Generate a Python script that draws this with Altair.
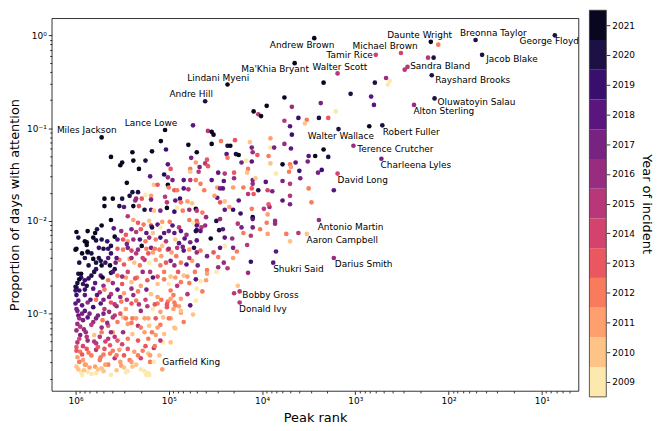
import altair as alt
import pandas as pd

# ---------------- data ----------------
# each entry: (log10 peak rank, log10 proportion of days with attention, year of incident)
upper_right = [
    (2.11,-0.10,2012),(2.22,-0.24,2015),(2.16,-0.24,2020),(2.79,-0.51,2020),(2.67,-0.46,2016),
    (2.63,-0.49,2009),(2.65,-0.53,2009),(3.05,-0.63,2020),(2.83,-0.66,2018),(2.80,-0.75,2018),
    (2.85,-0.98,2021),(3.23,-1.67,2018),(2.47,-0.37,2015),(3.34,-0.51,2021),(3.76,-0.67,2021),
]
upper_mid = [
    (3.95,-0.76,2021),(3.68,-0.77,2016),(3.37,-0.73,2017),(3.21,-0.82,2009),(4.09,-0.82,2021),
    (4.04,-0.85,2015),(4.01,-0.87,2021),(3.76,-0.92,2015),(3.61,-0.89,2019),(3.52,-0.91,2012),
    (3.54,-0.95,2010),(3.39,-0.89,2020),(3.29,-0.89,2013),(3.70,-0.98,2018),(3.68,-1.07,2019),
    (4.58,-1.03,2015),(4.54,-1.04,2021),(4.52,-1.07,2021),(4.44,-1.14,2012),(4.37,-1.19,2020),
    (4.34,-1.19,2021),(4.29,-1.13,2013),(4.13,-1.15,2010),(4.11,-1.21,2017),(3.91,-1.11,2011),
    (3.91,-1.21,2009),(3.87,-1.21,2017),(3.76,-1.17,2016),(3.69,-1.22,2018),(4.54,-1.17,2021),
    (4.38,-1.28,2018),(4.37,-1.32,2012),(4.28,-1.28,2020),(4.25,-1.29,2021),(4.10,-1.26,2016),
    (4.05,-1.29,2013),(3.93,-1.30,2012),(4.17,-1.35,2009),(4.22,-1.37,2017),(4.11,-1.36,2018),
    (3.91,-1.38,2010),(3.78,-1.39,2021),(3.70,-1.39,2012),(3.69,-1.42,2011),(3.64,-1.37,2018),
    (3.50,-1.30,2018),(3.43,-1.30,2021),(3.34,-1.23,2021),(3.51,-1.36,2017),(3.60,-1.46,2019),
    (3.40,-1.48,2017),(3.36,-1.45,2019),(3.85,-1.49,2009),(3.71,-1.47,2012),(4.59,-1.34,2013),
    (4.61,-1.38,2015),(4.58,-1.41,2013),(4.68,-1.47,2015),(4.66,-1.60,2012),(4.62,-1.67,2012),
    (4.54,-1.56,2018),(4.47,-1.48,2018),(4.41,-1.57,2018),(4.40,-1.49,2015),(4.30,-1.48,2013),
    (4.30,-1.54,2016),(4.15,-1.44,2012),(4.16,-1.48,2010),(4.10,-1.56,2017),(4.10,-1.60,2016),
    (4.07,-1.54,2010),(3.96,-1.58,2018),(3.78,-1.57,2017),(4.48,-1.64,2011),(4.45,-1.65,2017),
    (4.42,-1.65,2018),(4.31,-1.64,2011),(4.20,-1.64,2012),(4.11,-1.65,2013),(4.15,-1.71,2015),
    (4.09,-1.71,2013),(4.04,-1.67,2020),(3.94,-1.67,2014),(3.89,-1.68,2017),(3.70,-1.60,2015),
    (3.50,-1.65,2012),(3.78,-1.78,2018),(3.70,-1.82,2017),(3.47,-1.80,2012),(4.40,-1.79,2010),
    (4.45,-1.80,2013),(4.48,-1.75,2018),(4.51,-1.73,2011),(4.25,-1.78,2018),(4.71,-1.87,2021),
    (4.64,-1.91,2012),(4.70,-1.89,2015),(4.60,-1.96,2016),(4.40,-1.88,2018),(4.35,-1.85,2011),
    (4.31,-1.88,2019),(4.23,-1.92,2019),(4.10,-1.96,2021),(4.11,-1.87,2012),(3.98,-1.87,2015),
    (3.92,-1.85,2016),(3.94,-1.93,2011),(4.49,-2.00,2020),(4.45,-1.98,2016),(4.70,-2.00,2013),
    (4.69,-2.03,2012),(4.61,-2.05,2016),(4.65,-2.07,2015),(4.70,-2.10,2019),(4.46,-2.10,2020),
    (4.42,-2.09,2018),(4.40,-2.18,2018),(4.32,-2.19,2016),(4.26,-2.03,2015),(4.22,-2.07,2017),
    (4.20,-2.13,2012),(4.10,-2.07,2017),(3.94,-2.14,2011),(3.86,-2.03,2016),(3.74,-2.14,2012),
    (3.61,-2.13,2015),(4.55,-2.19,2021),(3.59,-1.54,2017),(3.29,-1.31,2020),(3.70,-1.73,2015),
    (3.93,-1.82,2013),
]
lower_mid = [
    (4.40,-2.27,2009),(4.31,-2.29,2017),(4.16,-2.26,2015),(4.27,-2.33,2012),(4.12,-2.44,2019),
    (4.15,-2.56,2016),(4.37,-2.51,2015),(4.47,-2.50,2016),(4.49,-2.55,2009),(4.59,-2.53,2012),
    (4.60,-2.64,2011),(4.70,-2.73,2009),(4.64,-2.76,2012),(4.26,-2.70,2010),(4.30,-2.78,2015),
    (3.85,-2.33,2018),(3.70,-2.22,2010),(4.66,-2.11,2018),(4.66,-2.32,2012),(4.59,-2.38,2017),
    (4.52,-2.34,2013),(4.47,-2.39,2012),(4.45,-2.29,2018),(4.59,-2.57,2011),(4.87,-2.66,2012),
    (4.66,-2.65,2009),(4.31,-2.40,2011),(4.41,-2.45,2016),(4.10,-1.98,2018),(3.95,-2.02,2012),
    (3.86,-2.00,2016),(4.12,-2.16,2015),(4.02,-2.09,2012),(5.06,-3.04,2010),(4.94,-3.15,2010),
    (5.06,-3.31,2009),(5.16,-3.37,2015),(5.20,-3.52,2012),(5.24,-3.66,2009),(5.21,-3.66,2009),
    (4.87,-2.99,2011),(4.74,-3.01,2010),(4.89,-2.92,2011),(4.95,-2.80,2012),(4.87,-2.84,2011),
    (4.98,-2.75,2012),(5.01,-2.87,2012),
]
upper_left = [
    (4.74,-0.97,2018),(5.085,-1.14,2021),(4.79,-1.18,2021),(5.03,-1.23,2019),(4.70,-1.26,2021),
    (5.39,-1.26,2021),(5.18,-1.25,2021),(5.62,-1.31,2021),(5.38,-1.35,2021),(5.25,-1.35,2020),
    (5.50,-1.37,2021),(5.52,-1.40,2021),(5.32,-1.44,2021),(4.76,-1.32,2017),(5.01,-1.39,2018),
    (4.71,-1.37,2011),(4.67,-1.42,2017),(4.77,-1.44,2012),(4.77,-1.47,2010),(4.98,-1.44,2013),
    (5.20,-1.52,2018),(5.05,-1.50,2020),(5.01,-1.53,2016),(4.96,-1.56,2017),(4.84,-1.56,2018),
    (4.77,-1.56,2015),(4.71,-1.56,2012),(5.45,-1.59,2021),(5.16,-1.61,2010),(5.12,-1.61,2013),
    (5.01,-1.61,2021),(5.00,-1.64,2012),(4.94,-1.67,2013),(4.91,-1.67,2012),(4.84,-1.65,2018),
    (4.79,-1.66,2015),(5.39,-1.69,2020),(5.33,-1.69,2020),(5.25,-1.72,2009),(5.19,-1.73,2011),
    (5.04,-1.74,2015),(5.42,-1.73,2020),(5.69,-1.76,2021),(5.60,-1.76,2021),(5.50,-1.76,2020),
    (5.35,-1.76,2016),(4.88,-1.76,2019),(5.69,-1.84,2021),
]
dense_upper = [
    (5.36,-1.78,2016),(5.29,-1.76,2013),(5.19,-1.77,2017),(5.02,-1.80,2015),(4.93,-1.78,2018),
    (4.87,-1.80,2012),(4.80,-1.79,2011),(4.75,-1.81,2010),(5.53,-1.84,2020),(5.48,-1.85,2018),
    (5.38,-1.84,2021),(5.32,-1.84,2013),(5.26,-1.88,2020),(5.19,-1.88,2018),(5.16,-1.89,2010),
    (5.09,-1.89,2017),(5.02,-1.86,2021),(4.94,-1.90,2019),(4.91,-1.86,2009),(4.85,-1.89,2012),
    (4.78,-1.88,2016),(5.44,-1.95,2015),(5.38,-1.99,2011),(5.62,-1.99,2021),(5.33,-2.02,2013),
    (5.27,-2.04,2012),(5.21,-2.00,2010),(5.19,-2.05,2014),(5.12,-2.04,2018),(5.07,-2.01,2011),
    (4.99,-2.01,2012),(4.96,-2.05,2018),(4.89,-2.07,2015),(4.78,-1.99,2012),(4.74,-2.02,2009),
    (4.70,-2.05,2018),(5.72,-2.05,2021),(5.87,-2.11,2021),(5.79,-2.13,2021),(5.59,-2.08,2018),
    (5.51,-2.11,2016),(5.46,-2.15,2013),(5.40,-2.09,2017),(5.35,-2.12,2015),(5.30,-2.09,2013),
    (5.24,-2.13,2018),(5.18,-2.07,2020),(5.17,-2.13,2010),(5.09,-2.07,2009),(5.05,-2.13,2018),
    (5.00,-2.11,2017),(4.94,-2.13,2018),(4.87,-2.11,2018),(4.81,-2.15,2016),(4.71,-2.11,2020),
    (5.81,-2.18,2021),(5.72,-2.20,2020),(5.58,-2.17,2021),(5.49,-2.20,2013),(5.44,-2.22,2011),
    (5.38,-2.20,2016),(5.31,-2.20,2018),(5.25,-2.22,2012),(5.21,-2.18,2016),(5.14,-2.20,2012),
    (5.09,-2.18,2019),(5.03,-2.22,2015),(4.93,-2.20,2010),(4.89,-2.24,2018),(4.83,-2.19,2018),
    (4.77,-2.23,2017),(4.70,-2.21,2018),
]
dense_middle = [
    (5.99,-2.30,2021),(5.88,-2.26,2021),(5.87,-2.34,2020),(5.75,-2.29,2019),(5.65,-2.30,2019),
    (5.62,-2.27,2020),(5.55,-2.30,2013),(5.49,-2.31,2012),(5.44,-2.29,2017),(5.40,-2.32,2014),
    (5.33,-2.31,2016),(5.29,-2.27,2021),(5.24,-2.30,2012),(5.19,-2.29,2017),(5.17,-2.34,2011),
    (5.10,-2.31,2012),(5.07,-2.27,2010),(5.01,-2.31,2013),(4.97,-2.34,2011),(4.91,-2.29,2015),
    (4.84,-2.32,2018),(4.78,-2.31,2011),(4.73,-2.29,2020),(4.70,-2.34,2016),(5.90,-2.40,2020),
    (5.81,-2.41,2021),(5.73,-2.43,2020),(5.65,-2.40,2018),(5.63,-2.48,2021),(5.57,-2.45,2017),
    (5.53,-2.42,2012),(5.48,-2.47,2013),(5.42,-2.41,2011),(5.37,-2.45,2010),(5.31,-2.48,2012),
    (5.26,-2.42,2015),(5.21,-2.45,2009),(5.14,-2.42,2011),(5.09,-2.48,2012),(5.03,-2.45,2013),
    (4.98,-2.43,2017),(4.94,-2.48,2016),(4.87,-2.45,2012),(4.81,-2.47,2018),(4.75,-2.43,2011),
    (4.69,-2.48,2017),(5.97,-2.57,2020),(5.94,-2.61,2019),(5.98,-2.67,2020),(5.90,-2.64,2019),
    (5.83,-2.59,2020),(5.79,-2.67,2018),(5.73,-2.59,2018),(5.70,-2.70,2016),(5.65,-2.64,2012),
    (5.60,-2.67,2016),(5.55,-2.59,2012),(5.50,-2.68,2013),(5.46,-2.61,2011),(5.40,-2.66,2010),
    (5.34,-2.61,2012),(5.30,-2.70,2011),(5.23,-2.64,2013),(5.17,-2.61,2018),(5.12,-2.68,2010),
    (5.05,-2.63,2012),(5.00,-2.68,2009),(4.93,-2.61,2011),(4.91,-2.70,2015),(4.84,-2.59,2010),
    (4.78,-2.67,2012),(4.71,-2.63,2018),
]
dense_lower = [
    (5.99,-2.72,2020),(5.90,-2.74,2019),(5.81,-2.73,2018),(5.74,-2.77,2016),(5.69,-2.74,2012),
    (5.62,-2.79,2015),(5.55,-2.74,2018),(5.48,-2.78,2011),(5.40,-2.73,2016),(5.33,-2.76,2012),
    (5.24,-2.74,2017),(5.19,-2.79,2010),(5.12,-2.82,2011),(4.98,-2.84,2011),(4.94,-2.88,2012),
    (4.80,-2.79,2015),(4.71,-2.86,2009),(5.97,-2.86,2018),(5.93,-2.91,2018),(5.98,-2.97,2017),
    (5.87,-2.88,2016),(5.81,-2.93,2019),(5.78,-2.85,2012),(5.73,-2.89,2018),(5.69,-2.95,2015),
    (5.62,-2.88,2013),(5.56,-2.92,2016),(5.51,-2.87,2012),(5.46,-2.95,2011),(5.40,-2.89,2013),
    (5.35,-2.86,2012),(5.30,-2.97,2016),(5.23,-2.92,2015),(5.17,-2.95,2009),(5.12,-2.89,2012),
    (5.09,-2.98,2011),(5.02,-2.93,2013),(4.93,-2.91,2012),(4.87,-2.97,2010),(4.77,-2.91,2018),
    (5.97,-3.02,2018),(5.92,-3.07,2017),(5.98,-3.11,2016),(5.87,-3.04,2018),(5.81,-3.09,2016),
    (5.76,-3.02,2017),(5.71,-3.07,2012),(5.65,-3.13,2013),(5.60,-3.04,2015),(5.55,-3.09,2012),
    (5.49,-3.04,2010),(5.44,-3.11,2011),(5.39,-3.05,2012),(5.33,-3.13,2015),(5.26,-3.05,2011),
    (5.21,-3.13,2010),(5.14,-3.05,2013),(5.09,-3.12,2012),(4.98,-3.05,2011),(4.93,-3.16,2010),
    (4.84,-3.09,2012),(5.99,-3.18,2016),(5.95,-3.23,2017),(5.98,-3.31,2015),(5.89,-3.20,2016),
    (5.87,-3.29,2016),(5.80,-3.23,2010),(5.78,-3.32,2015),(5.72,-3.20,2012),(5.65,-3.27,2015),
    (5.60,-3.20,2011),(5.55,-3.29,2013),(5.49,-3.20,2016),(5.44,-3.27,2012),(5.39,-3.22,2010),
    (5.33,-3.29,2013),(5.26,-3.20,2011),(5.22,-3.27,2012),(5.14,-3.23,2011),(5.09,-3.29,2015),
    (4.98,-3.31,2010),(5.99,-3.36,2013),(5.95,-3.41,2012),(5.98,-3.47,2011),(5.92,-3.50,2011),
    (5.88,-3.38,2013),(5.83,-3.45,2012),(5.78,-3.39,2015),(5.73,-3.47,2012),(5.69,-3.38,2013),
    (5.63,-3.43,2012),(5.58,-3.48,2015),(5.53,-3.39,2011),(5.48,-3.45,2013),(5.42,-3.50,2012),
    (5.37,-3.41,2011),(5.30,-3.48,2014),(5.22,-3.43,2010),(5.16,-3.52,2009),(5.99,-3.57,2010),
    (5.94,-3.63,2009),(5.89,-3.55,2011),(5.87,-3.63,2009),(5.79,-3.57,2011),(5.78,-3.64,2009),
    (5.72,-3.59,2010),(5.65,-3.55,2012),(5.62,-3.66,2009),(5.56,-3.61,2010),(5.51,-3.56,2011),
    (5.46,-3.63,2009),(5.39,-3.57,2010),(5.26,-3.62,2009),(5.22,-3.64,2009),(5.93,-3.66,2009),
]
left_wall = [
    (6.00,-2.31,2021),(6.00,-2.71,2020),(6.00,-2.75,2019),(5.99,-2.80,2019),(6.00,-2.89,2018),
    (5.94,-2.57,2021),(5.96,-2.63,2021),(5.88,-2.70,2020),(5.87,-2.33,2021),(5.88,-2.23,2021),
    (5.77,-2.09,2020),(5.78,-2.21,2020),(5.86,-2.48,2020),(5.78,-2.52,2019),(5.72,-2.48,2021),
    (5.71,-2.61,2021),(5.62,-2.56,2020),(5.58,-2.52,2020),
    (5.99,-2.95,2017),(5.96,-3.05,2016),(5.93,-3.00,2017),(5.90,-2.97,2018),(5.85,-3.00,2017),
    (5.83,-3.12,2015),(5.95,-3.14,2015),(5.91,-3.17,2016),(5.88,-3.25,2015),(5.96,-3.27,2014),
    (5.92,-3.35,2014),(5.99,-3.40,2013),(5.93,-3.44,2013),(5.86,-3.42,2012),(5.96,-3.52,2012),
    (5.90,-3.55,2011),(5.97,-3.60,2010),(5.91,-3.61,2010),(5.85,-3.58,2011),(5.83,-3.65,2009),
    (5.76,-3.60,2010),(5.70,-3.62,2010),(5.68,-3.55,2011),(5.74,-3.50,2012),(5.70,-3.44,2012),
    (5.76,-3.36,2013),(5.80,-3.30,2015),(5.74,-3.25,2015),(5.68,-3.30,2014),(5.63,-3.34,2013),
    (5.60,-3.40,2012),(5.56,-3.45,2012),(5.52,-3.52,2011),(5.48,-3.58,2010),(5.44,-3.62,2009),
    (5.40,-3.52,2011),(5.35,-3.55,2010),(5.30,-3.60,2009),(5.33,-3.45,2012),(5.28,-3.40,2012),
    (5.25,-3.35,2013),(5.44,-3.38,2013),(5.50,-3.33,2014),(5.58,-3.25,2015),(5.62,-3.20,2016),
    (5.66,-3.10,2016),(5.72,-3.15,2016),(5.78,-3.05,2017),(5.70,-3.00,2017),(5.64,-2.98,2016),
    (5.58,-3.02,2015),(5.52,-3.00,2013),(5.46,-3.05,2012),(5.40,-3.10,2012),(5.35,-3.05,2011),
    (5.30,-3.15,2012),(5.22,-3.05,2011),(5.18,-3.20,2012),(5.12,-3.15,2011),(5.05,-3.22,2010),
    (5.15,-3.35,2012),(5.10,-3.45,2010),(5.20,-3.45,2011),(5.00,-3.05,2012),(4.95,-2.95,2011),
    (5.02,-2.90,2013),(5.08,-2.85,2012),(5.15,-2.90,2013),(5.25,-2.85,2014),(5.32,-2.90,2015),
    (5.38,-2.80,2016),(5.45,-2.85,2015),(5.52,-2.82,2016),(5.58,-2.90,2015),(5.64,-2.82,2017),
    (5.70,-2.85,2017),(5.77,-2.80,2018),(5.84,-2.85,2018),(5.90,-2.80,2018),(5.96,-2.75,2019),
    (5.92,-2.68,2019),(5.86,-2.62,2019),(5.80,-2.55,2020),(5.75,-2.40,2020),(5.68,-2.45,2019),
    (5.60,-2.55,2018),(5.56,-2.40,2018),(5.62,-2.35,2019),(5.70,-2.30,2020),(5.66,-2.22,2019),
    (5.55,-2.20,2018),(5.45,-2.25,2017),(5.40,-2.40,2016),(5.35,-2.35,2015),(5.28,-2.40,2014),
    (5.22,-2.35,2013),(5.15,-2.30,2012),(5.08,-2.38,2011),(5.00,-2.30,2016),(4.92,-2.38,2012),
    (4.85,-2.28,2017),(4.78,-2.40,2015),(4.72,-2.55,2012),(4.80,-2.60,2011),(4.90,-2.55,2013),
    (4.98,-2.60,2010),(5.05,-2.55,2012),(5.12,-2.60,2013),(5.20,-2.55,2015),(5.28,-2.55,2016),
    (5.36,-2.62,2013),(5.44,-2.55,2014),(5.50,-2.60,2016),(5.96,-2.45,2020),(5.93,-2.35,2021),
    (5.97,-2.18,2020),(5.99,-2.12,2021),(5.90,-2.22,2021),(5.83,-2.35,2020),(5.78,-2.45,2020),
]

# named incidents
names = ["George Floyd", "Breonna Taylor", "Jacob Blake", "Daunte Wright", "Rayshard Brooks",
         "Oluwatoyin Salau", "Michael Brown", "Sandra Bland", "Alton Sterling", "Tamir Rice",
         "Walter Scott", "Andrew Brown", "Ma'Khia Bryant", "Lindani Myeni", "Andre Hill",
         "Lance Lowe", "Miles Jackson", "Robert Fuller", "Walter Wallace", "Terence Crutcher",
         "Charleena Lyles", "David Long", "Antonio Martin", "Aaron Campbell", "Darius Smith",
         "Shukri Said", "Bobby Gross", "Donald Ivy", "Garfield King"]
named_log_rank = [0.86, 1.71, 1.64, 2.19, 2.18, 2.15, 2.51, 2.44, 2.37, 2.78, 3.19, 3.44, 3.65,
                  4.37, 4.61, 5.04, 5.72, 2.71, 3.18, 3.02, 2.72, 3.19, 3.39, 3.52, 3.23, 3.88,
                  4.24, 4.24, 5.07]
named_log_prop = [0.00, -0.05, -0.21, -0.07, -0.43, -0.68, -0.19, -0.34, -0.75, -0.21, -0.41,
                  -0.03, -0.30, -0.53, -0.71, -1.02, -1.10, -0.97, -1.01, -1.19, -1.33, -1.49,
                  -1.99, -2.14, -2.40, -2.45, -2.76, -2.88, -3.60]
named_year = [2020, 2020, 2020, 2021, 2020, 2020, 2014, 2015, 2016, 2014, 2015, 2021, 2021,
              2021, 2020, 2021, 2021, 2020, 2020, 2016, 2017, 2014, 2016, 2010, 2016, 2018,
              2015, 2015, 2011]
# where each name is written (log10 rank, log10 proportion of the text centre)
text_log_rank = [0.92, 1.52, 1.32, 2.31, 1.74, 1.70, 2.68, 2.09, 2.05, 3.06, 3.165, 3.57, 3.86,
                 4.47, 4.76, 5.19, 5.88, 2.40, 3.155, 2.57, 2.35, 2.92, 3.05, 3.14, 2.91, 3.61,
                 3.91, 3.99, 4.76]
text_log_prop = [-0.064, 0.02, -0.25, 0.006, -0.48, -0.72, -0.11, -0.33, -0.82, -0.21, -0.34,
                 -0.10, -0.36, -0.46, -0.63, -0.95, -1.02, -1.04, -1.085, -1.23, -1.40, -1.56,
                 -2.065, -2.21, -2.47, -2.52, -2.80, -2.95, -3.52]

years = list(range(2009, 2022))
year_colors = ["#fde9ad", "#fec487", "#fe9f6d", "#f97b5d", "#eb5760", "#d3436e", "#b73779",
               "#982d80", "#782281", "#5a167e", "#390f6e", "#1c1044", "#090720"]

x_major = [1e1, 1e2, 1e3, 1e4, 1e5, 1e6]
y_major = [1e-3, 1e-2, 1e-1, 1e0]
x_domain = [4.04, 1.8e6]
y_domain = [1.47e-4, 1.53]

# ---------------- frames ----------------
rows = (upper_right + upper_mid + lower_mid + upper_left + dense_upper + dense_middle
        + dense_lower + left_wall
        + list(zip(named_log_rank, named_log_prop, named_year)))
pts = pd.DataFrame(rows, columns=["log_rank", "log_prop", "year"])
pts["rank"] = 10 ** pts["log_rank"]
pts["prop"] = 10 ** pts["log_prop"]

labels = pd.DataFrame({"name": names, "log_rank": text_log_rank, "log_prop": text_log_prop})
labels["rank"] = 10 ** labels["log_rank"]
labels["prop"] = 10 ** labels["log_prop"]

cb = pd.DataFrame({"year": years})
cb["lo"] = cb["year"] - 0.5
cb["hi"] = cb["year"] + 0.5
cb["c0"] = 0
cb["c1"] = 1
cb_frame = pd.DataFrame({"lo": [years[0] - 0.5], "hi": [years[-1] + 0.5], "c0": [0], "c1": [1]})

x_ticks = sorted(x_major + [k * 10 ** n for n in range(0, 7) for k in range(2, 10)
                            if x_domain[0] <= k * 10 ** n <= x_domain[1]])
y_ticks = sorted(y_major + [k * 10.0 ** n for n in range(-4, 1) for k in range(2, 10)
                            if y_domain[0] <= k * 10.0 ** n <= y_domain[1]])

EXP = "round(log(datum.value)/LN10)"
MAJOR = f"abs(log(datum.value)/LN10 - {EXP}) < 0.001"
LABEL = (f"({MAJOR}) ? '10' + ({EXP} < 0 ? '\u207b' : '') + "
         f"['\u2070','\u00b9','\u00b2','\u00b3','\u2074','\u2075','\u2076','\u2077'][abs({EXP})] : ''")
TICK = {"condition": {"test": MAJOR, "value": 3.5}, "value": 2}

FONT = "DejaVu Sans"
W, H = 530, 375
color = alt.Color("year:O", scale=alt.Scale(domain=years, range=year_colors), legend=None)

x_enc = alt.X("rank:Q",
              scale=alt.Scale(type="log", domain=x_domain, reverse=True, nice=False),
              axis=alt.Axis(values=x_ticks, labelExpr=LABEL, tickSize=TICK, title="Peak rank",
                            grid=False, domain=False, labelOverlap=False, labelFlush=False,
                            labelPadding=2, titlePadding=6))
y_enc = alt.Y("prop:Q",
              scale=alt.Scale(type="log", domain=y_domain, nice=False),
              axis=alt.Axis(values=y_ticks, labelExpr=LABEL, tickSize=TICK, orient="left",
                            title="Proportion of days with attention",
                            grid=False, domain=False, labelOverlap=False, labelFlush=False,
                            labelPadding=2, titlePadding=5))

points = alt.Chart(pts).mark_circle(size=22, opacity=1).encode(x=x_enc, y=y_enc, color=color)
texts = alt.Chart(labels).mark_text(font=FONT, fontSize=9, color="black").encode(
    x="rank:Q", y="prop:Q", text="name:N")
scatter = alt.layer(points, texts)

# colour bar to the right of the plot (placed with its own scales)
cb_x = alt.X("c0:Q", scale=alt.Scale(domain=[0, 1], range=[W + 11, W + 28]), axis=None)
cb_y_scale = alt.Scale(domain=[years[0] - 0.5, years[-1] + 0.5], range=[H + 6, -8],
                       nice=False, zero=False)
cb_axis = alt.Axis(orient="right", offset=28, values=years, format="d",
                   title="Year of incident", grid=False, domain=False, tickSize=3.5,
                   labelPadding=2, titlePadding=5)
bands = alt.Chart(cb).mark_rect().encode(
    x=cb_x, x2="c1:Q",
    y=alt.Y("lo:Q", scale=cb_y_scale, axis=cb_axis),
    y2="hi:Q",
    color=color,
)
outline = alt.Chart(cb_frame).mark_rect(fillOpacity=0, stroke="#333333", strokeWidth=0.8).encode(
    x=cb_x, x2="c1:Q", y=alt.Y("lo:Q", scale=cb_y_scale, axis=cb_axis), y2="hi:Q")
colorbar = alt.layer(bands, outline)

chart = alt.layer(scatter, colorbar).resolve_scale(
    x="independent", y="independent"
).properties(
    width=W, height=H, background="white",
    padding={"left": 0, "top": 0, "bottom": 0, "right": 3}
).configure_view(
    stroke="black", strokeWidth=0.8
).configure_axis(
    labelFont=FONT, titleFont=FONT, labelFontSize=9, titleFontSize=13,
    titleFontWeight="normal", labelColor="black", titleColor="black", tickColor="black",
    tickWidth=0.8
)

chart.save("out.html", embed_options={"renderer": "svg", "actions": False})
